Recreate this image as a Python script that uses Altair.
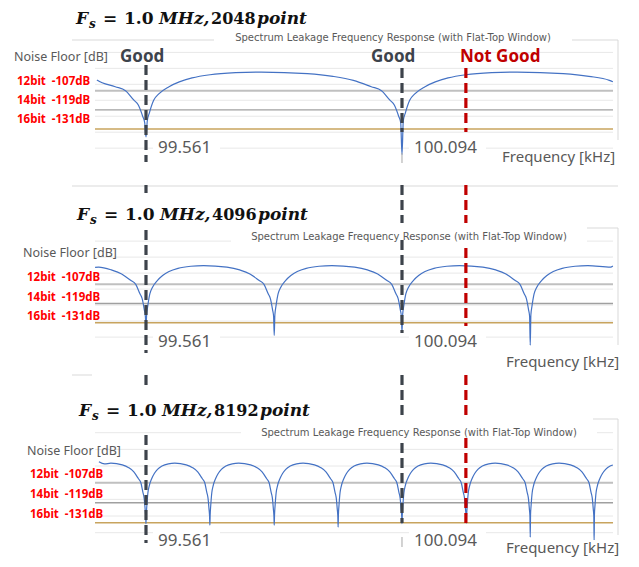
import altair as alt
import pandas as pd

# ---------------- data ----------------
POINTS = ["2048", "4096", "8192"]
SUBTITLE = "Spectrum Leakage Frequency Response (with Flat-Top Window)"
Y_LABEL = "Noise Floor [dB]"
X_LABEL = "Frequency [kHz]"
NOISE_DB = [-107, -119, -131]
NOISE_LABELS = ["12bit\u00a0\u00a0-107dB", "14bit\u00a0\u00a0-119dB", "16bit\u00a0\u00a0-131dB"]
MARKER_FREQS = [99.561, 100.094, 100.227]
MARKER_LABELS = ["Good", "Good", "Not Good"]
TICK_FREQS = [99.561, 100.094]
TICK_LABELS = ["99.561", "100.094"]

# leakage lobe: distance from a null (in bins) -> level (dB)
RIGHT_D = [0.005, 0.013, 0.03, 0.05, 0.09, 0.13, 0.18, 0.25, 0.35, 0.45]
RIGHT_DB = [-126, -121, -113, -109, -104.5, -101.5, -99, -97, -95.7, -95.3]
LEFT_D = [0.005, 0.013, 0.03, 0.048, 0.08, 0.12, 0.19, 0.27, 0.37]
LEFT_DB = [-127, -123, -116, -112.8, -107, -104.5, -100.5, -98, -96.3]

BIN_KHZ = [0.533, 0.2665, 0.13325]
NULL_FREQS = [
    [99.561, 100.094],
    [99.561, 99.828, 100.094, 100.361],
    [99.561, 99.694, 99.828, 99.961, 100.094, 100.228, 100.361, 100.494],
]
NULL_DB = [
    [-136, -147],
    [-134, -139, -137, -145],
    [-131.5, -132.4, -132.4, -133.6, -131.5, -131.2, -139.6, -142.6],
]
OUTER_NULLS = [[99.028, 100.627], [99.295, 100.627], [99.428, 100.627]]
CURVE_START = [99.459, 99.455, 99.463]
CURVE_END = [100.533, 100.533, 100.533]
START_DB = [-100.3, -96.4, -94.4]
END_DB = [-101.4, -95.6, -96.4]
GRID_DB = [
    [-83, -93, -103, -113, -123, -133, -143],
    [-80, -90, -100, -110, -120, -130, -140],
    [-77, -87, -97, -107, -117, -127, -137],
]

# ---------------- layout ----------------
W = 622
X_DOMAIN = [99.2737, 100.5687]
XSCALE = alt.Scale(domain=X_DOMAIN, nice=False, zero=False)
GRAY_TXT = "#595959"
DARK = "#3d434b"
RED_DARK = "#c00000"
NOISE_COLORS = ["#c0c0c0", "#a0a0a0", "#c8a45e"]
NOISE_WIDTHS = [2, 1.4, 1.6]
MARKER_COLORS = [DARK, DARK, RED_DARK]

LAYOUT = [
    dict(h=180, ydom=[-167.97, -55.18], tx=68, ty=16, sub=(385, 30), yl=(6, 49),
         nlx=9, nldy=-9, ticky=140, xl=(494, 149),
         segs=[[(57, 154), (177, 185)], [(60, 124), (177, 215)], [(60, 124), (177, 215)]],
         frame=[(64, 32, 206, 32), (564, 32, 610, 32), (610, 32, 610, 132), (64, 178, 610, 178)],
         tickmark=(145, 155)),
    dict(h=192, ydom=[-166.81, -46.81], tx=69, ty=32, sub=(401, 49), yl=(15, 65),
         nlx=19, nldy=-6, ticky=154, xl=(498, 174),
         segs=[[(42, 165), (187, 202)], [(52, 145), (187, 227)], [(60, 138), (187, 229)]],
         frame=[(579, 40, 610, 40), (610, 40, 610, 157), (64, 187, 84, 187)],
         tickmark=None),
    dict(h=171, ydom=[-147.98, -45.38], tx=71, ty=36, sub=(411, 53), yl=(19, 71),
         nlx=22, nldy=-8, ticky=161, xl=(498, 168),
         segs=[[(55, 163)], [(63, 143)], [(58, 143)]],
         frame=[(585, 39, 610, 39), (610, 39, 610, 155)],
         tickmark=(157, 167)),
]

ONE = pd.DataFrame({"k": [0]})


def curve_frame(i):
    b = BIN_KHZ[i]
    pts = [(CURVE_START[i], START_DB[i]), (CURVE_END[i], END_DB[i])]
    pts += list(zip(NULL_FREQS[i], NULL_DB[i]))
    for f0 in NULL_FREQS[i] + OUTER_NULLS[i]:
        pts += [(f0 + d * b, v) for d, v in zip(RIGHT_D, RIGHT_DB)]
        pts += [(f0 - d * b, v) for d, v in zip(LEFT_D, LEFT_DB)]
    pts = [p for p in pts if CURVE_START[i] <= p[0] <= CURVE_END[i]]
    return pd.DataFrame(pts, columns=["f", "db"]).sort_values("f")


def txt(text, x, y, size, color, weight="normal", style="normal", font="Noto Sans",
        align="left", baseline="middle"):
    return alt.Chart(pd.DataFrame({"t": [text]})).mark_text(
        fontSize=size, color=color, fontWeight=weight, fontStyle=style, font=font,
        align=align, baseline=baseline,
    ).encode(text="t:N", x=alt.value(x), y=alt.value(y))


def box(x1, x2, y1, y2):
    return alt.Chart(ONE).mark_rect(color="white").encode(
        x=alt.value(x1), x2=alt.value(x2), y=alt.value(y1), y2=alt.value(y2))


def panel(i):
    L = LAYOUT[i]
    yscale = alt.Scale(domain=L["ydom"], nice=False, zero=False)
    X = alt.X("f:Q", scale=XSCALE, axis=None)
    Y = alt.Y("db:Q", scale=yscale, axis=None)
    layers = []

    # chart frame pieces
    for (x1, y1, x2, y2) in L["frame"]:
        layers.append(alt.Chart(ONE).mark_rule(color="#d9d9d9", strokeWidth=1).encode(
            x=alt.value(x1), x2=alt.value(x2), y=alt.value(y1), y2=alt.value(y2)))

    # gridlines
    grid = pd.DataFrame({"db": GRID_DB[i]})
    layers.append(alt.Chart(grid).mark_rule(color="#e8e8e8", strokeWidth=1).encode(
        y=Y, x=alt.value(87), x2=alt.value(605)))

    # noise floor lines
    for db, c, w in zip(NOISE_DB, NOISE_COLORS, NOISE_WIDTHS):
        layers.append(alt.Chart(pd.DataFrame({"db": [db]})).mark_rule(
            color=c, strokeWidth=w).encode(y=Y, x=alt.value(87), x2=alt.value(605)))

    # leakage curve
    layers.append(alt.Chart(curve_frame(i)).mark_line(
        color="#4472C4", strokeWidth=1.2, interpolate="monotone").encode(x=X, y=Y))

    # white label boxes
    sx, sy = L["sub"]
    layers.append(box(sx - 178, sx + 178, sy - 6, sy + 6))
    ty = L["ticky"]
    layers.append(box(145, 212, ty - 9, ty + 10))
    layers.append(box(401, 478, ty - 9, ty + 10))
    xlx, xly = L["xl"]
    layers.append(box(xlx - 3, xlx + 124, xly - 8, xly + 9))

    # tick marks
    if L["tickmark"]:
        a, b = L["tickmark"]
        layers.append(alt.Chart(pd.DataFrame({"f": [TICK_FREQS[1]]})).mark_rule(
            color="#a6a6a6", strokeWidth=1).encode(x=X, y=alt.value(a), y2=alt.value(b)))

    # dashed marker lines
    for f, col, segs in zip(MARKER_FREQS, MARKER_COLORS, L["segs"]):
        for (a, b) in segs:
            layers.append(alt.Chart(pd.DataFrame({"f": [f]})).mark_rule(
                color=col, strokeWidth=3.2, strokeDash=[10, 5]).encode(
                x=X, y=alt.value(a), y2=alt.value(b)))

    # title  F_s = 1.0 MHz, NNNNpoint
    tx, tyy = L["tx"], L["ty"]
    parts = [
        ("F", 0, 0, 17, "italic"),
        ("s", 13, 4, 12, "italic"),
        ("=", 27, 0, 17, "normal"),
        ("1.0", 48, 0, 17, "normal"),
        ("MHz,", 83, 0, 17, "italic"),
        (POINTS[i], 135, 0, 16, "normal"),
        ("point", 181, 0, 17, "italic"),
    ]
    for t, dx, dy, size, style in parts:
        layers.append(txt(t, tx + dx, tyy + dy, size, "#111111", weight="bold",
                          style=style, font="DejaVu Serif", baseline="alphabetic"))

    # subtitle
    layers.append(txt(SUBTITLE, sx, sy, 10, GRAY_TXT, font="DejaVu Sans", align="center"))

    # y label
    layers.append(txt(Y_LABEL, L["yl"][0], L["yl"][1], 12.5, GRAY_TXT))

    # noise floor labels
    nl = pd.DataFrame({"db": NOISE_DB, "t": NOISE_LABELS})
    layers.append(alt.Chart(nl).mark_text(
        fontSize=11.5, fontWeight="bold", color="#ff0000", font="Noto Sans",
        align="left", baseline="middle", dy=L["nldy"]).encode(
        y=Y, x=alt.value(L["nlx"]), text="t:N"))

    # tick labels
    tk = pd.DataFrame({"f": TICK_FREQS, "t": TICK_LABELS})
    layers.append(alt.Chart(tk).mark_text(
        fontSize=17, color=GRAY_TXT, font="Noto Sans", align="left",
        baseline="middle", dx=12).encode(x=X, y=alt.value(ty), text="t:N"))

    # x label
    layers.append(txt(X_LABEL, xlx, xly, 15, GRAY_TXT))

    # Good / Not Good labels (top panel only)
    if i == 0:
        for f, lab, col, dx in zip(MARKER_FREQS, MARKER_LABELS, MARKER_COLORS, [-26, -31, -6]):
            layers.append(alt.Chart(pd.DataFrame({"f": [f], "t": [lab]})).mark_text(
                fontSize=17, fontWeight="bold", color=col, font="Noto Sans",
                align="left", baseline="middle", dx=dx).encode(
                x=X, y=alt.value(49), text="t:N"))

    return alt.layer(*layers).properties(width=W, height=L["h"])


chart = alt.vconcat(panel(0), panel(1), panel(2), spacing=0, bounds="flush").properties(
    padding=0, background="white").configure_view(strokeWidth=0)

chart.save("out.html", embed_options={"renderer": "svg", "actions": False})
